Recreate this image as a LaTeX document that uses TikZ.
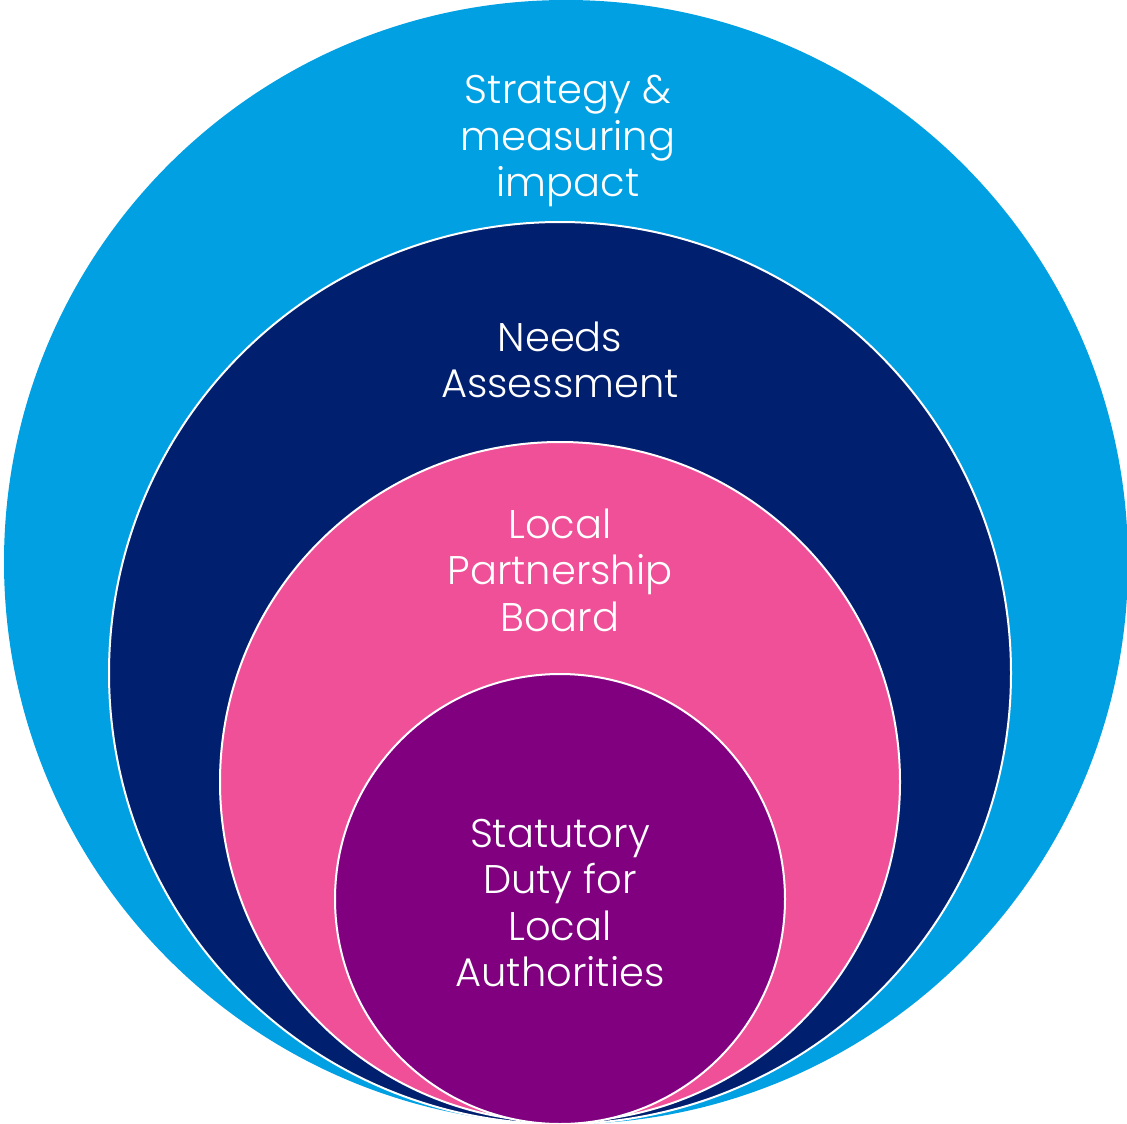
\documentclass[tikz,border=0pt]{standalone}
\usepackage{fontspec}
\setmainfont{Poppins Light}
\definecolor{cblue}{HTML}{00A0E3}
\definecolor{cnavy}{HTML}{001F6E}
\definecolor{cpink}{HTML}{EF5098}
\definecolor{cpurple}{HTML}{800080}
\begin{document}
\begin{tikzpicture}[x=1pt,y=-1pt,
  ring/.style={circle, inner sep=0pt, outer sep=0pt, draw=white, line width=2pt},
  lbl/.style={text=white, align=center, font=\fontsize{40}{46.5}\selectfont}]
\useasboundingbox (0,0) rectangle (1127,1124);
\node[circle, inner sep=0pt, fill=cblue, minimum size=1124pt] (outer) at (566,562) {};
\node[ring, fill=cnavy, minimum size=902pt] (needs) at (560,673) {};
\node[ring, fill=cpink, minimum size=680pt] (board) at (560,782) {};
\node[ring, fill=cpurple, minimum size=450pt] (duty) at (560,899) {};
\node[lbl] (t1) at (568,141) {Strategy \&\\measuring\\impact};
\node[lbl] (t2) at (560,360) {Needs\\Assessment};
\node[lbl] (t3) at (560,570) {Local\\Partnership\\Board};
\node[lbl] (t4) at (560,903) {Statutory\\Duty for\\Local\\Authorities};
\end{tikzpicture}
\end{document}
